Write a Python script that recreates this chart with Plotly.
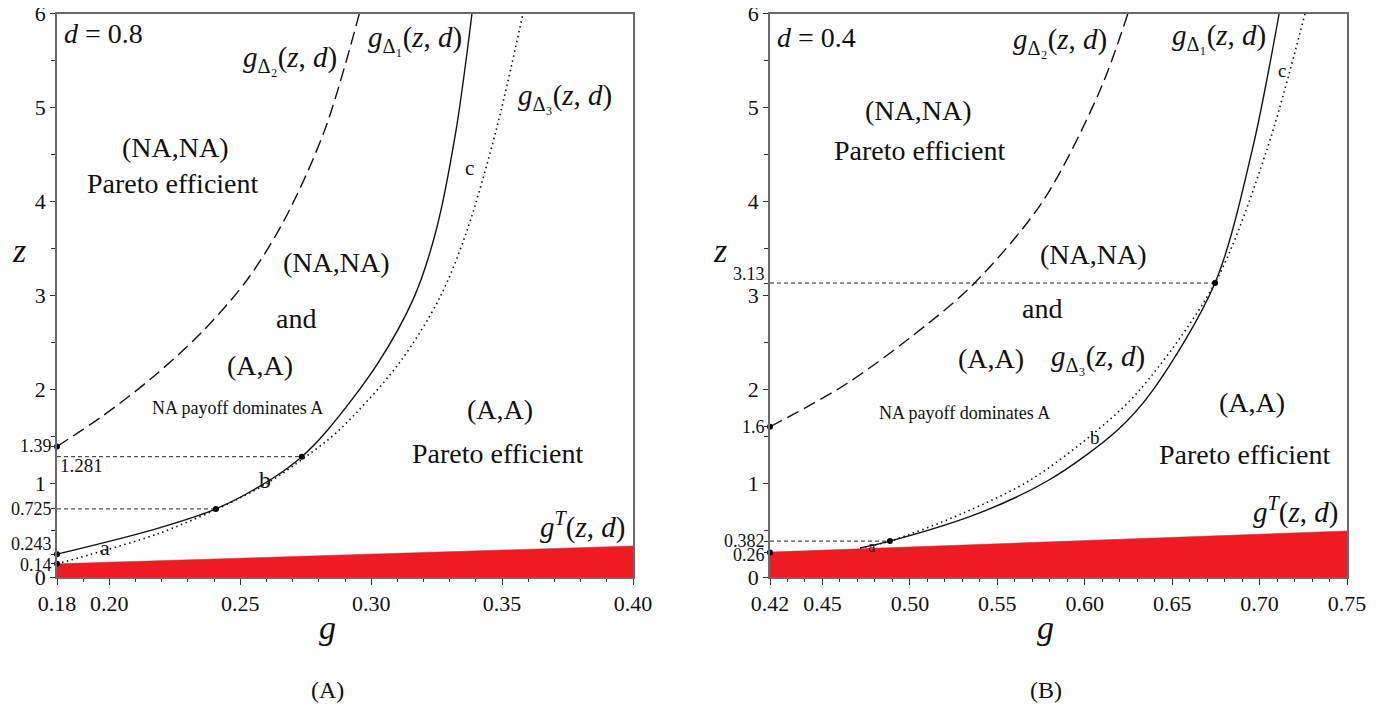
import plotly.graph_objects as go

# ---------------- Panel A (d = 0.8) ----------------
A_delta1_z = [0.243, 0.51, 0.725, 1.03, 1.281, 1.56, 2.27, 2.98, 3.69, 4.755, 6.0]
A_delta1_g = [0.18, 0.2175, 0.2407, 0.2612, 0.2735, 0.2832, 0.3024, 0.3164, 0.3248, 0.3324, 0.3385]
A_delta2_z = [1.39, 1.7, 2.1, 2.6, 3.16, 3.8, 4.755, 6.0]
A_delta2_g = [0.18, 0.1967, 0.2154, 0.2351, 0.2525, 0.2668, 0.2822, 0.2955]
A_delta3_z = [0.14, 0.27, 0.46, 0.725, 1.0, 1.281, 1.56, 2.27, 2.98, 3.69, 4.755, 6.0]
A_delta3_g = [0.18, 0.1965, 0.2185, 0.2412, 0.2604, 0.2750, 0.2876, 0.3105, 0.3263, 0.3366, 0.3477, 0.3580]
A_gT_g = [0.18, 0.40]
A_gT_z = [0.14, 0.33]
A_dot_g = [0.18, 0.18, 0.18, 0.2407, 0.2735]
A_dot_z = [1.39, 0.243, 0.14, 0.725, 1.281]
A_guide_z = [0.725, 1.281]
A_guide_g_end = [0.2407, 0.2735]
A_xticks = [0.18, 0.20, 0.25, 0.30, 0.35, 0.40]
A_xticktext = ["0.18", "0.20", "0.25", "0.30", "0.35", "0.40"]
A_yticks = [0, 1, 2, 3, 4, 5, 6]
A_yticktext = ["0", "1", "2", "3", "4", "5", "6"]
A_small_ticks = [0.14, 0.243, 0.725, 1.39]
A_small_text = ["0.14", "0.243", "0.725", "1.39"]

# ---------------- Panel B (d = 0.4) ----------------
B_delta1_z = [0.31, 0.382, 0.68, 1.03, 1.56, 1.99, 3.13, 4.54, 6.0]
B_delta1_g = [0.4715, 0.4886, 0.5395, 0.5793, 0.6185, 0.6390, 0.6745, 0.6957, 0.7112]
B_delta2_z = [1.6, 2.06, 2.7, 3.13, 4.0, 5.18, 6.0]
B_delta2_g = [0.42, 0.4640, 0.5105, 0.5370, 0.5760, 0.6087, 0.6247]
B_delta3_z = [0.31, 0.382, 0.68, 1.03, 1.56, 1.99, 3.13, 4.54, 6.0]
B_delta3_g = [0.4715, 0.4886, 0.5304, 0.5687, 0.6070, 0.6314, 0.6745, 0.7040, 0.7260]
B_gT_g = [0.42, 0.75]
B_gT_z = [0.265, 0.49]
B_dot_g = [0.42, 0.42, 0.4886, 0.6745]
B_dot_z = [1.6, 0.26, 0.382, 3.13]
B_guide_z = [0.382, 3.13]
B_guide_g_end = [0.4886, 0.6745]
B_xticks = [0.42, 0.45, 0.50, 0.55, 0.60, 0.65, 0.70, 0.75]
B_xticktext = ["0.42", "0.45", "0.50", "0.55", "0.60", "0.65", "0.70", "0.75"]
B_yticks = [0, 1, 2, 3, 4, 5, 6]
B_yticktext = ["0", "1", "2", "3", "4", "5", "6"]
B_small_ticks = [0.26, 0.382, 1.6, 3.13]
B_small_text = ["0.26", "0.382", "1.6", "3.13"]

RED = "rgb(237,28,36)"
SERIF = "Liberation Serif"
FRAME = "#6a6a6a"
W, H, OFF = 1385, 709, 8  # page body margin of the html page


def fx(px):
    return (px - OFF) / W


def fy(py):
    return 1 - (py - OFF) / H


fig = go.Figure()


def add_panel(xa, ya, gT_g, gT_z, d2g, d2z, d1g, d1z, d3g, d3z, dot_g, dot_z, guide_z, guide_end, x0):
    fig.add_trace(go.Scatter(x=gT_g, y=gT_z, mode="lines", fill="tozeroy", fillcolor=RED,
                             line=dict(color=RED, width=0.5), xaxis=xa, yaxis=ya, hoverinfo="skip"))
    for zz, ge in zip(guide_z, guide_end):
        fig.add_trace(go.Scatter(x=[x0, ge], y=[zz, zz], mode="lines",
                                 line=dict(color="#222", width=1, dash="4px,3px"),
                                 xaxis=xa, yaxis=ya, hoverinfo="skip"))
    fig.add_trace(go.Scatter(x=d2g, y=d2z, mode="lines", line_shape="spline",
                             line=dict(color="#111", width=1.4, dash="13px,6px", smoothing=0.9),
                             xaxis=xa, yaxis=ya))
    fig.add_trace(go.Scatter(x=d3g, y=d3z, mode="lines", line_shape="spline",
                             line=dict(color="#111", width=1.6, dash="1.5px,3.5px", smoothing=0.9),
                             xaxis=xa, yaxis=ya))
    fig.add_trace(go.Scatter(x=d1g, y=d1z, mode="lines", line_shape="spline",
                             line=dict(color="#111", width=1.4, smoothing=0.9), xaxis=xa, yaxis=ya))
    fig.add_trace(go.Scatter(x=dot_g, y=dot_z, mode="markers", cliponaxis=False,
                             marker=dict(color="black", size=6), xaxis=xa, yaxis=ya))


add_panel("x", "y", A_gT_g, A_gT_z, A_delta2_g, A_delta2_z, A_delta1_g, A_delta1_z,
          A_delta3_g, A_delta3_z, A_dot_g, A_dot_z, A_guide_z, A_guide_g_end, A_xticks[0])
add_panel("x2", "y2", B_gT_g, B_gT_z, B_delta2_g, B_delta2_z, B_delta1_g, B_delta1_z,
          B_delta3_g, B_delta3_z, B_dot_g, B_dot_z, B_guide_z, B_guide_g_end, B_xticks[0])


def xaxis_style(domain, rng, vals, text, anchor):
    return dict(domain=domain, range=rng, tickmode="array", tickvals=vals, ticktext=text,
                ticks="outside", ticklen=6, tickwidth=1, tickcolor="#333", automargin=False,
                showline=True, linecolor=FRAME, linewidth=1.5, mirror=True,
                showgrid=False, zeroline=False, anchor=anchor, ticklabeloverflow="allow",
                tickfont=dict(family=SERIF, size=22, color="#111"),
                minor=dict(tickmode="linear", tick0=0, dtick=0.01, ticklen=3,
                           tickcolor="#333", ticks="outside", showgrid=False))


def yaxis_style(domain, vals, text, small_vals, anchor):
    return dict(domain=domain, range=[0, 6], tickmode="array", tickvals=vals, ticktext=text,
                ticks="outside", ticklen=5, tickwidth=1, tickcolor="#333", automargin=False,
                showline=True, linecolor=FRAME, linewidth=1.5, mirror=True,
                showgrid=False, zeroline=False, anchor=anchor, ticklabelstandoff=0,
                ticklabeloverflow="allow",
                tickfont=dict(family=SERIF, size=22, color="#111"),
                minor=dict(tickmode="array", tickvals=[0.5, 1.5, 2.5, 3.5, 4.5, 5.5] + small_vals,
                           ticklen=4, tickcolor="#333", ticks="outside", showgrid=False))


ydom = [fy(577), fy(13.5)]
fig.update_layout(
    width=W, height=H, margin=dict(l=0, r=0, t=0, b=0),
    paper_bgcolor="white", plot_bgcolor="white", showlegend=False,
    xaxis=xaxis_style([fx(57), fx(633)], [0.18, 0.40], A_xticks, A_xticktext, "y"),
    yaxis=yaxis_style(ydom, A_yticks, A_yticktext, A_small_ticks, "x"),
    xaxis2=xaxis_style([fx(770), fx(1347)], [0.42, 0.75], B_xticks, B_xticktext, "y2"),
    yaxis2=yaxis_style(ydom, B_yticks, B_yticktext, B_small_ticks, "x2"),
)

G1 = "<i>g</i><sub>Δ₁</sub>(<i>z</i>, <i>d</i>)"
G2 = "<i>g</i><sub>Δ₂</sub>(<i>z</i>, <i>d</i>)"
G3 = "<i>g</i><sub>Δ₃</sub>(<i>z</i>, <i>d</i>)"
GT = "<i>g</i><sup><i>T</i></sup>(<i>z</i>, <i>d</i>)"

# (text, g, z, size, xanchor)
A_labels = [
    ("<i>d</i> = 0.8", 0.1819, 5.79, 28, "left"),
    (G2, 0.2690, 5.52, 29, "center"),
    (G1, 0.3167, 5.73, 29, "center"),
    (G3, 0.3740, 5.11, 29, "center"),
    ("c", 0.3374, 4.35, 21, "center"),
    ("(NA,NA)", 0.2251, 4.57, 28, "center"),
    ("Pareto efficient", 0.2243, 4.19, 28, "center"),
    ("(NA,NA)", 0.2866, 3.35, 28, "center"),
    ("and", 0.2713, 2.755, 28, "center"),
    ("(A,A)", 0.2575, 2.255, 28, "center"),
    ("NA payoff dominates A", 0.2491, 1.80, 18, "center"),
    ("b", 0.2594, 1.03, 24, "center"),
    ("a", 0.1983, 0.31, 22, "center"),
    ("(A,A)", 0.3492, 1.78, 28, "center"),
    ("Pareto efficient", 0.3484, 1.32, 28, "center"),
    (GT, 0.3809, 0.55, 29, "center"),
    ("1.281", 0.1804, 1.19, 19, "left"),
]
B_labels = [
    ("<i>d</i> = 0.4", 0.4229, 5.745, 28, "left"),
    (G2, 0.5859, 5.71, 29, "center"),
    (G1, 0.6768, 5.745, 29, "center"),
    ("c", 0.7128, 5.39, 19, "center"),
    ("(NA,NA)", 0.5052, 4.97, 28, "center"),
    ("Pareto efficient", 0.5058, 4.54, 28, "center"),
    ("(NA,NA)", 0.6053, 3.43, 28, "center"),
    ("and", 0.5756, 2.86, 28, "center"),
    ("(A,A)", 0.5464, 2.33, 28, "center"),
    (G3, 0.6076, 2.33, 29, "center"),
    ("NA payoff dominates A", 0.5315, 1.745, 18, "center"),
    ("b", 0.6059, 1.49, 19, "center"),
    ("a", 0.4783, 0.33, 17, "center"),
    ("(A,A)", 0.6957, 1.86, 28, "center"),
    ("Pareto efficient", 0.6917, 1.30, 28, "center"),
    (GT, 0.7208, 0.71, 29, "center"),
]

anns = []
for labels, xr, yr in ((A_labels, "x", "y"), (B_labels, "x2", "y2")):
    for t, gx, zy, sz, xa in labels:
        anns.append(dict(text=t, x=gx, y=zy, xref=xr, yref=yr, showarrow=False,
                         xanchor=xa, yanchor="middle",
                         font=dict(family=SERIF, size=sz, color="#111")))

# small y tick labels (with the vertical nudges seen in the reference)
A_small_shift = [-1, 10, 0, 0]
B_small_shift = [-2, 0, 0, 9]
for vals, texts, shifts, xr, yr in ((A_small_ticks, A_small_text, A_small_shift, "x domain", "y"),
                                    (B_small_ticks, B_small_text, B_small_shift, "x2 domain", "y2")):
    for v, t, s in zip(vals, texts, shifts):
        anns.append(dict(text=t, x=0, y=v, xref=xr, yref=yr, showarrow=False,
                         xanchor="right", yanchor="middle", xshift=-3, yshift=s,
                         font=dict(family=SERIF, size=18, color="#111")))

# axis titles and panel captions (page pixel positions)
for t, px, py, sz in (("<i>z</i>", 19, 250, 34), ("<i>z</i>", 720, 250, 34),
                      ("<i>g</i>", 327, 627, 34), ("<i>g</i>", 1045, 627, 34),
                      ("(A)", 327, 690, 24), ("(B)", 1046, 690, 24)):
    anns.append(dict(text=t, x=fx(px), y=fy(py), xref="paper", yref="paper",
                     showarrow=False, xanchor="center", yanchor="middle",
                     font=dict(family=SERIF, size=sz, color="#111")))

fig.update_layout(annotations=anns)
fig.write_html("out.html")
